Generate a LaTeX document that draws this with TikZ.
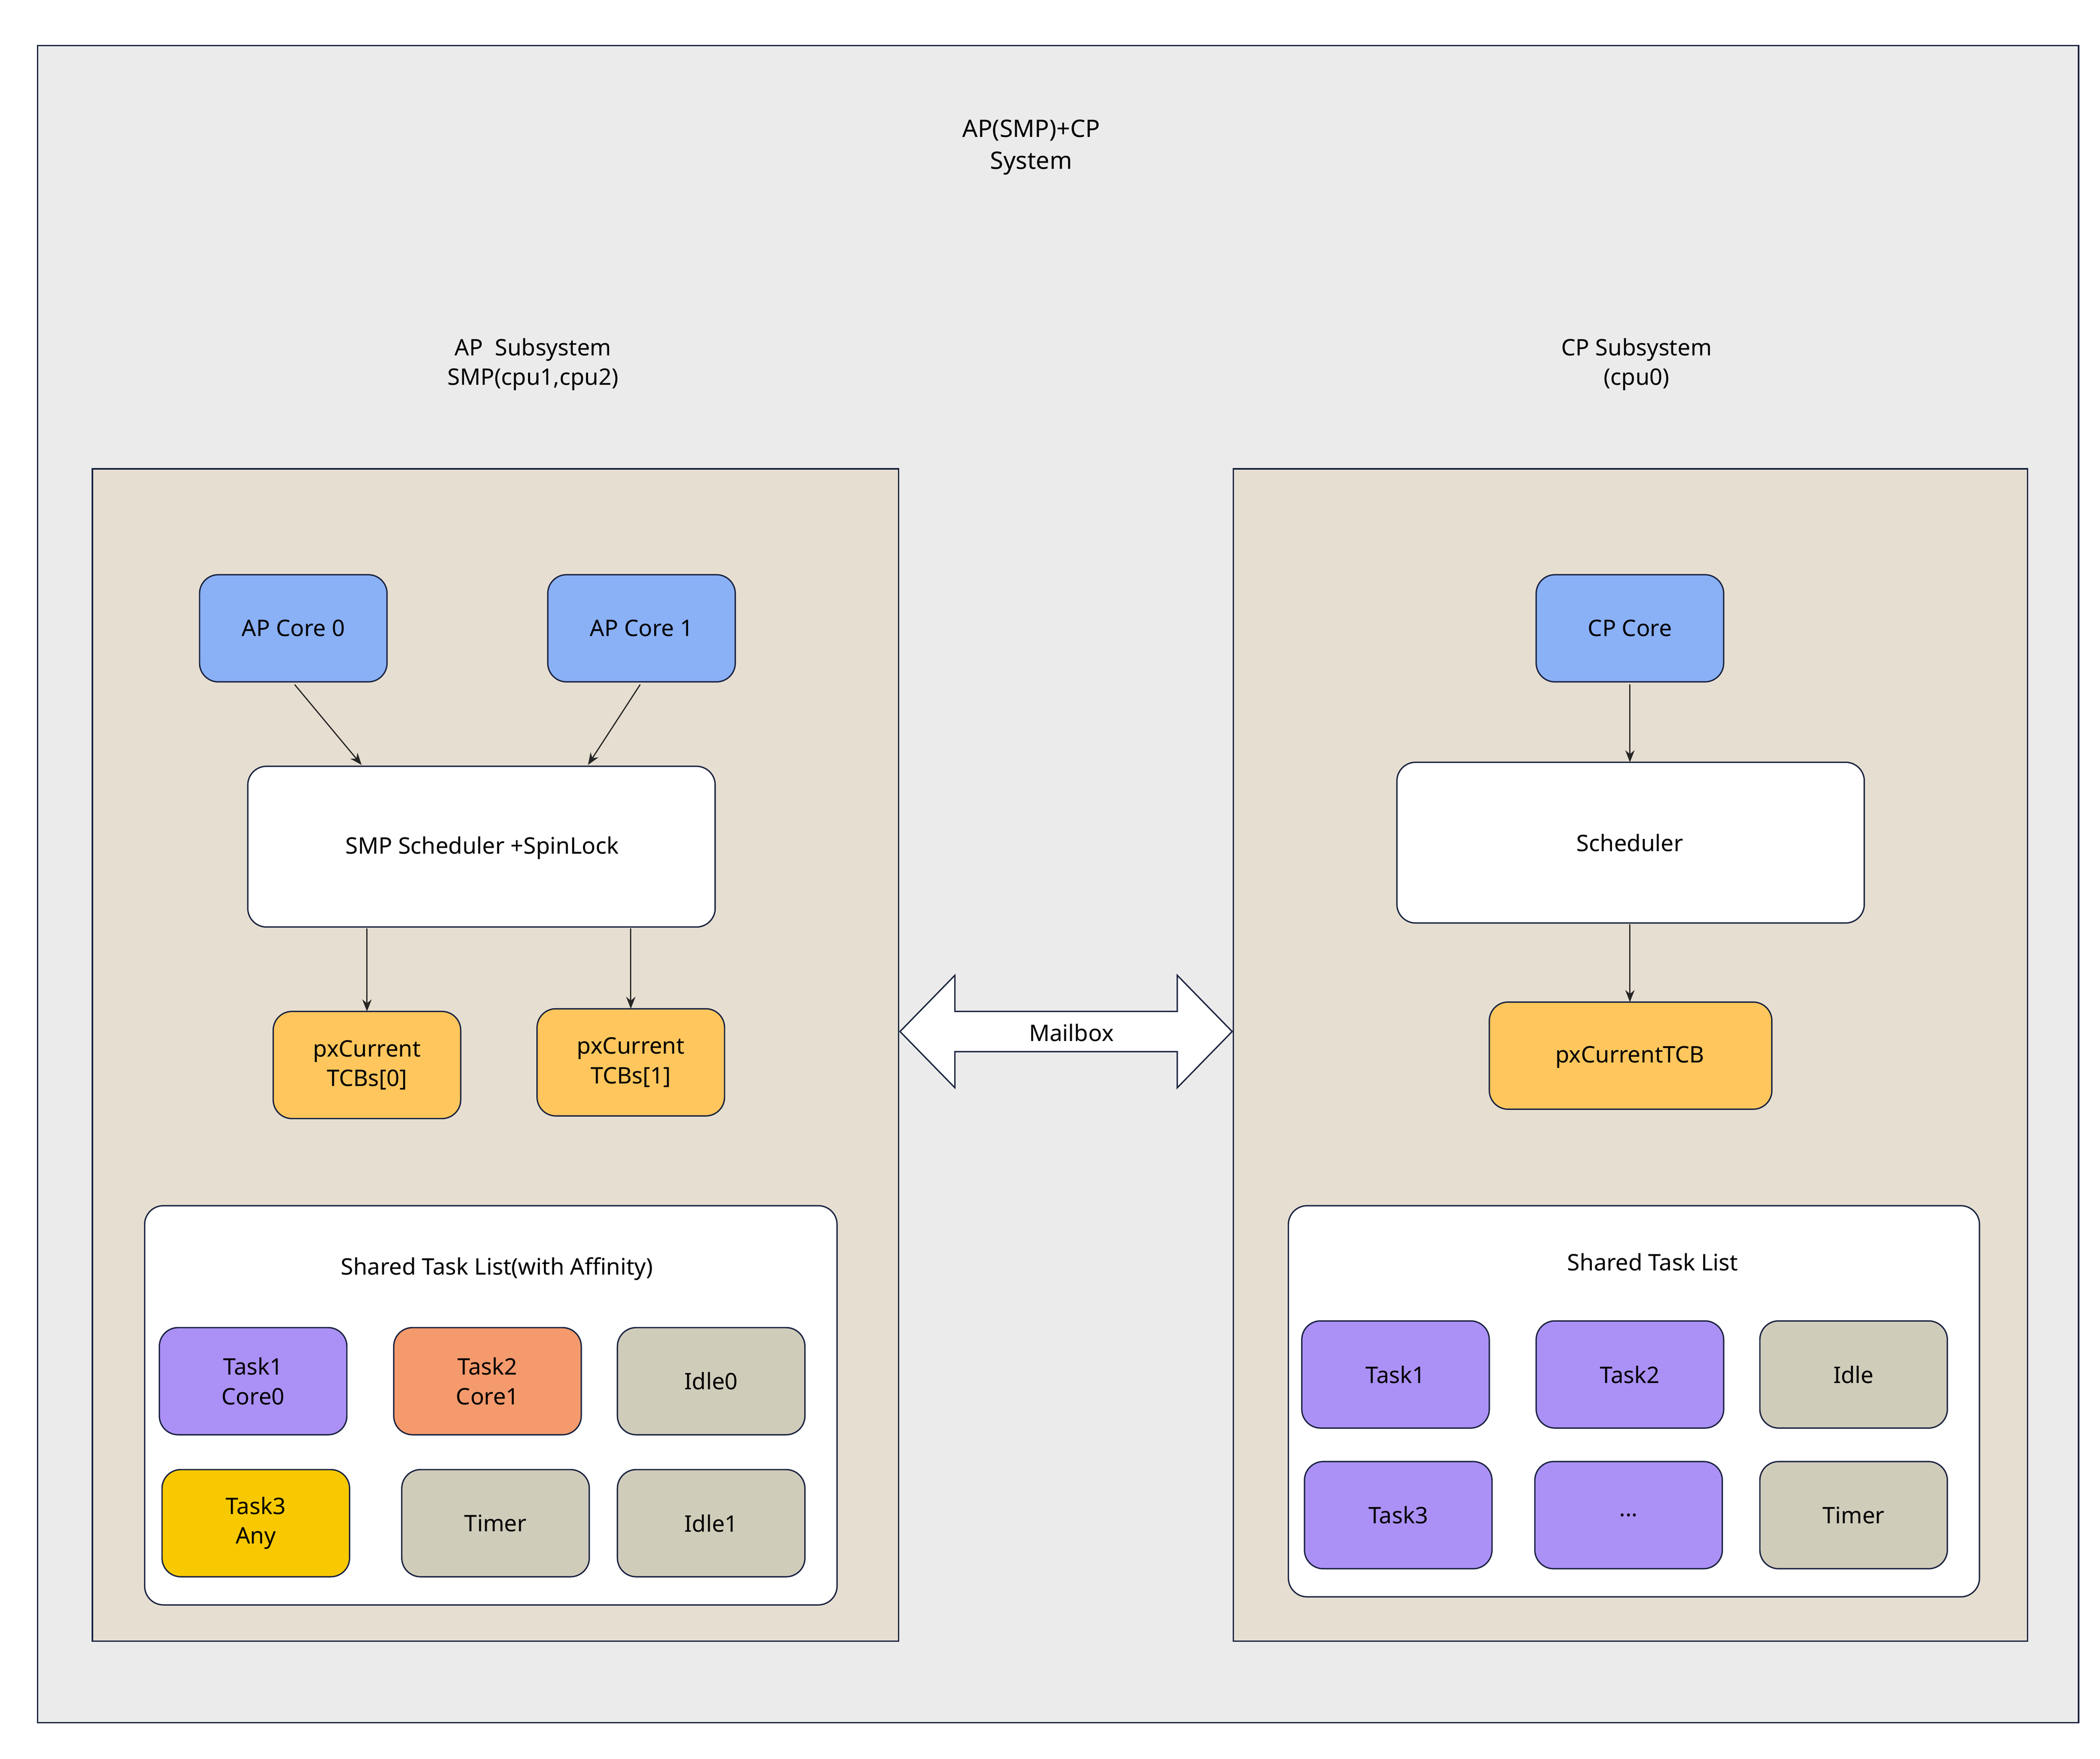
\documentclass[tikz,border=0pt]{standalone}
\usepackage{fontspec}
\setmainfont{Noto Sans}
\usetikzlibrary{arrows.meta}
\definecolor{bgc}{HTML}{EBEBEB}
\definecolor{subc}{HTML}{E6DFD1}
\definecolor{edge}{HTML}{1A2340}
\definecolor{corec}{HTML}{8AB0F6}
\definecolor{tcbc}{HTML}{FEC65C}
\definecolor{purp}{HTML}{AB91F6}
\definecolor{oran}{HTML}{F49A6C}
\definecolor{grey}{HTML}{D0CCBA}
\definecolor{yell}{HTML}{F8C900}
\begin{document}
\begin{tikzpicture}[x=1pt,y=-1pt,
  txt/.style={font=\fontsize{17}{22}\selectfont, align=center},
  box/.style={draw=edge, line width=1pt, rounded corners=14pt},
  arr/.style={-{Stealth[length=9pt,width=7pt]}, line width=0.9pt, draw=black!85}]
\useasboundingbox (0,0) rectangle (1568,1313);
\fill[white] (0,0) rectangle (1568,1313);
\draw[fill=bgc, draw=edge, line width=1pt] (28,34) rectangle (1552,1286);
\node[txt, font=\fontsize{18}{24}\bfseries\selectfont] (title) at (770,110) {AP(SMP)+CP\\System};
\node[txt] (aplab) at (398,272) {AP\ \ Subsystem\\SMP(cpu1,cpu2)};
\node[txt] (cplab) at (1222,272) {CP Subsystem\\(cpu0)};
\draw[fill=subc, draw=edge, line width=1pt] (69,350) rectangle (671,1225);
\draw[fill=subc, draw=edge, line width=1pt] (921,350) rectangle (1514,1225);
% cores
\newcommand{\rbox}[6]{\draw[box, fill=#6] (#2,#3) rectangle (#4,#5); \node[txt] (#1) at ({(#2+#4)/2},{(#3+#5)/2}) {};}
\draw[box, fill=corec] (149,429) rectangle (289,509); \node[txt] (c0) at (219,469) {AP Core 0};
\draw[box, fill=corec] (409,429) rectangle (549,509); \node[txt] (c1) at (479,469) {AP Core 1};
\draw[box, fill=corec] (1147,429) rectangle (1287,509); \node[txt] (cc) at (1217,469) {CP Core};
\draw[box, fill=white] (185,572) rectangle (534,692); \node[txt] (smp) at (360,633) {SMP Scheduler +SpinLock};
\draw[box, fill=white] (1043,569) rectangle (1392,689); \node[txt] (sch) at (1217,629) {Scheduler};
\draw[box, fill=tcbc] (204,755) rectangle (344,835); \node[txt] (t0) at (274,795) {pxCurrent\\TCBs[0]};
\draw[box, fill=tcbc] (401,753) rectangle (541,833); \node[txt] (t1) at (471,793) {pxCurrent\\TCBs[1]};
\draw[box, fill=tcbc] (1112,748) rectangle (1323,828); \node[txt] (tc) at (1217,789) {pxCurrentTCB};
% arrows
\coordinate (a0s) at (220,511); \coordinate (a0e) at (270,571);
\coordinate (a1s) at (478,511); \coordinate (a1e) at (439,571);
\coordinate (b0s) at (274,693); \coordinate (b0e) at (274,755);
\coordinate (b1s) at (471,693); \coordinate (b1e) at (471,753);
\coordinate (ccs) at (1217,511); \coordinate (cce) at (1217,569);
\coordinate (scs) at (1217,690); \coordinate (sce) at (1217,748);
\draw[arr] (a0s) -- (a0e); \draw[arr] (a1s) -- (a1e);
\draw[arr] (b0s) -- (b0e); \draw[arr] (b1s) -- (b1e);
\draw[arr] (ccs) -- (cce); \draw[arr] (scs) -- (sce);
% mailbox
\draw[fill=white, draw=edge, line width=1pt] (672,770) -- (713,728) -- (713,755) -- (879,755) -- (879,728) -- (920,770) -- (879,812) -- (879,785) -- (713,785) -- (713,812) -- cycle;
\node[txt] (mb) at (800,771) {Mailbox};
% AP task list
\draw[box, fill=white] (108,900) rectangle (625,1198);
\node[txt] (apl) at (371,947) {Shared Task List(with Affinity)};
\draw[box, fill=purp] (119,991) rectangle (259,1071); \node[txt] (k1) at (189,1031) {Task1\\Core0};
\draw[box, fill=oran] (294,991) rectangle (434,1071); \node[txt] (k2) at (364,1031) {Task2\\Core1};
\draw[box, fill=grey] (461,991) rectangle (601,1071); \node[txt] (k3) at (531,1031) {Idle0};
\draw[box, fill=yell] (121,1097) rectangle (261,1177); \node[txt] (k4) at (191,1137) {Task3\\Any};
\draw[box, fill=grey] (300,1097) rectangle (440,1177); \node[txt] (k5) at (370,1137) {Timer};
\draw[box, fill=grey] (461,1097) rectangle (601,1177); \node[txt] (k6) at (531,1137) {Idle1};
% CP task list
\draw[box, fill=white] (962,900) rectangle (1478,1192);
\node[txt] (cpl) at (1234,942) {Shared Task List};
\draw[box, fill=purp] (972,986) rectangle (1112,1066); \node[txt] (m1) at (1042,1026) {Task1};
\draw[box, fill=purp] (1147,986) rectangle (1287,1066); \node[txt] (m2) at (1217,1026) {Task2};
\draw[box, fill=grey] (1314,986) rectangle (1454,1066); \node[txt] (m3) at (1384,1026) {Idle};
\draw[box, fill=purp] (974,1091) rectangle (1114,1171); \node[txt] (m4) at (1044,1131) {Task3};
\draw[box, fill=purp] (1146,1091) rectangle (1286,1171); \node[txt] (m5) at (1216,1131) {...};
\draw[box, fill=grey] (1314,1091) rectangle (1454,1171); \node[txt] (m6) at (1384,1131) {Timer};
\end{tikzpicture}
\end{document}
